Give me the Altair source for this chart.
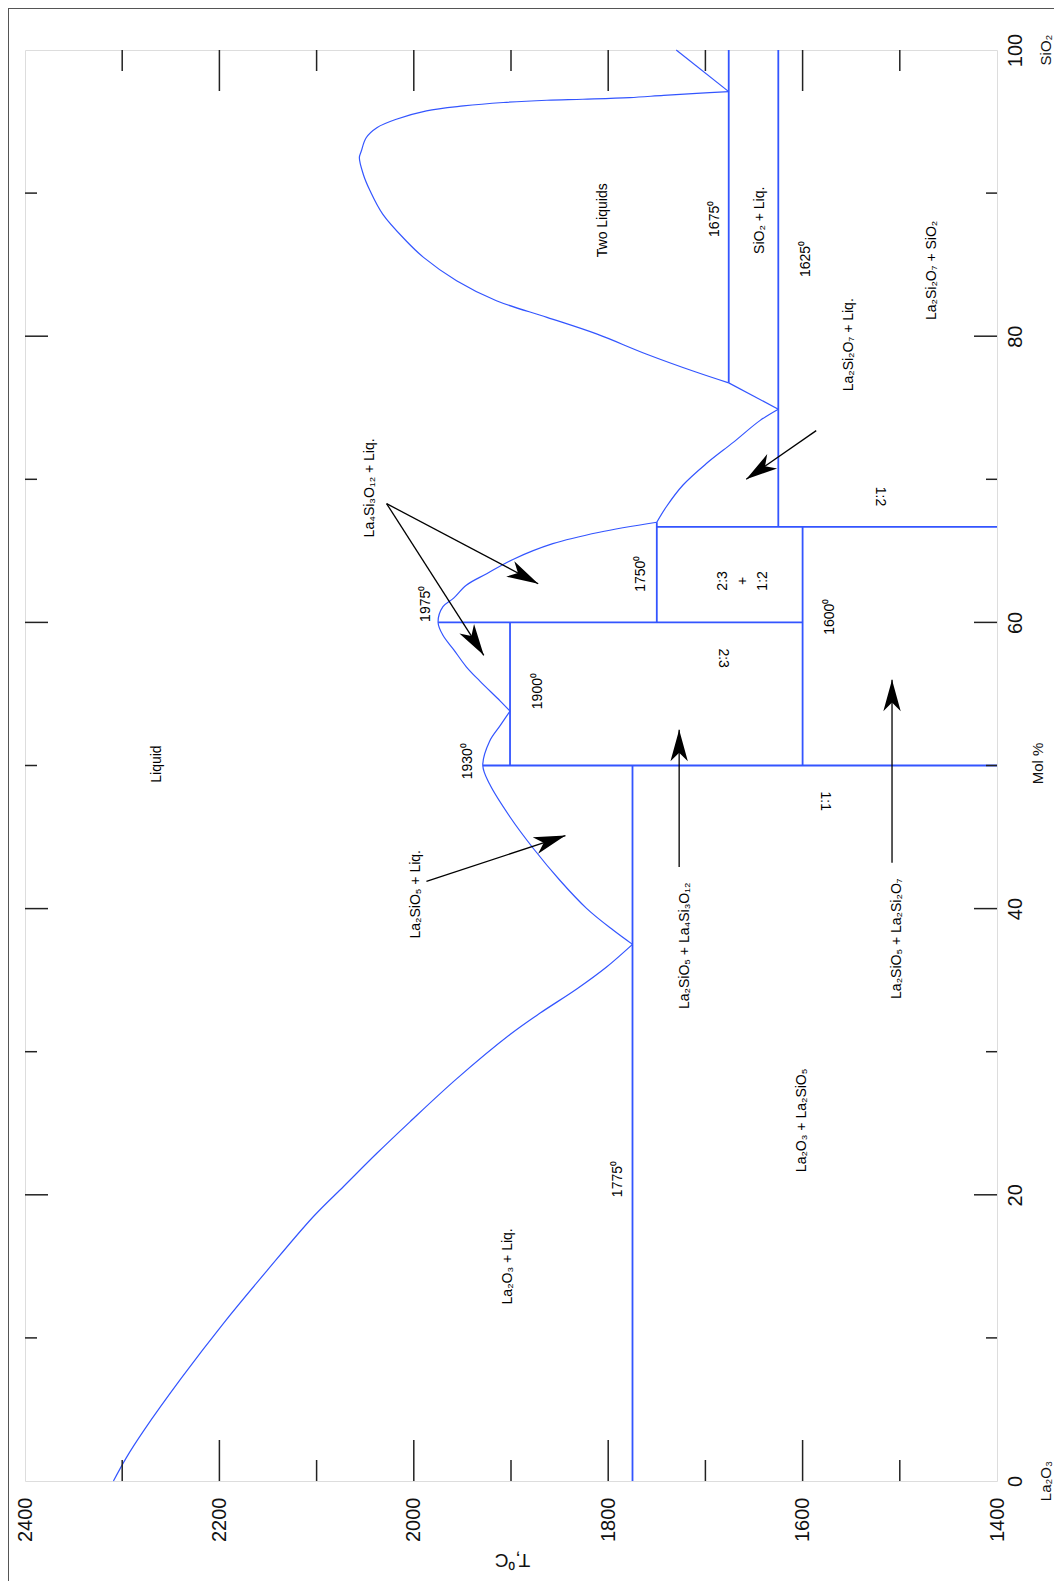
import math
import altair as alt
import pandas as pd

W, H = 972, 1431
NARROW = "'Liberation Sans Narrow', 'Arial Narrow', 'Liberation Sans', sans-serif"
SANS = "'Liberation Sans', Arial, sans-serif"
BLUE = "#3355ff"

# ---------------- curves (T in degC, M in mol % SiO2) ----------------
liq_la2o3_T = [2309, 2296, 2278, 2239, 2196, 2151, 2103, 2072, 2038, 2004, 1956, 1901, 1870, 1832, 1802, 1775]
liq_la2o3_M = [0.0, 1.6, 3.5, 7.2, 11.0, 14.7, 18.5, 20.6, 22.9, 25.1, 28.1, 31.2, 32.7, 34.4, 35.9, 37.5]

liq_1930_T = [1775, 1795, 1822, 1850, 1877, 1901, 1922, 1929, 1922, 1911, 1901]
liq_1930_M = [37.5, 38.5, 40.0, 42.0, 44.2, 46.4, 48.7, 50.0, 51.7, 52.8, 53.8]

liq_1975_T = [1901, 1911, 1932, 1946, 1959, 1970, 1975, 1970, 1959, 1946, 1925, 1898, 1857, 1809, 1750]
liq_1975_M = [53.8, 54.5, 55.9, 56.9, 58.1, 59.1, 60.0, 61.1, 61.7, 62.6, 63.4, 64.4, 65.5, 66.3, 67.0]

liq_1750_T = [1750, 1740, 1723, 1699, 1671, 1644, 1625]
liq_1750_M = [67.0, 68.1, 69.6, 71.1, 72.6, 74.1, 74.9]

liq_eut_T = [1625, 1676]
liq_eut_M = [74.9, 76.74]

dome_T = [1676, 1709, 1761, 1812, 1863, 1915, 1956, 1990, 2008, 2032, 2045, 2052, 2056, 2054, 2049,
          2038, 2018, 1987, 1949, 1908, 1863, 1826, 1778, 1743, 1709, 1676]
dome_M = [76.74, 77.48, 78.76, 80.16, 81.32, 82.48, 83.88, 85.51, 86.67, 88.53, 90.16, 91.32, 92.48,
          92.94, 93.87, 94.57, 95.16, 95.75, 96.09, 96.33, 96.49, 96.56, 96.67, 96.83, 96.97, 97.09]

liq_sio2_T = [1676, 1730]
liq_sio2_M = [97.09, 100.0]

# ---------------- straight phase boundaries ----------------
bound_T0 = [1775, 1929, 1901, 1975, 1750, 1750, 1600, 1625, 1676]
bound_T1 = [1775, 1400, 1901, 1600, 1750, 1400, 1600, 1625, 1676]
bound_M0 = [0.0, 50.0, 50.0, 60.0, 60.0, 66.67, 50.0, 66.67, 76.74]
bound_M1 = [50.0, 50.0, 60.0, 60.0, 67.0, 66.67, 66.67, 100.0, 100.0]

# ---------------- arrows ----------------
arrow_T0 = [1586, 2028, 2028, 1987, 1727, 1508]
arrow_M0 = [73.4, 68.3, 68.3, 41.9, 42.9, 43.2]
arrow_T1 = [1658, 1872, 1928, 1844, 1727, 1508]
arrow_M1 = [70.0, 62.7, 57.7, 45.1, 52.5, 56.0]

# ---------------- labels ----------------
lab_text = ["Liquid", "1930⁰", "La₂O₃ + Liq.", "1775⁰", "La₂O₃ + La₂SiO₅", "La₂SiO₅ + Liq.",
            "La₂SiO₅ + La₄Si₃O₁₂", "La₂SiO₅ + La₂Si₂O₇", "1900⁰", "1975⁰", "1600⁰", "1750⁰",
            "2:3\n+\n1:2", "La₄Si₃O₁₂ + Liq.", "La₂Si₂O₇ + Liq.", "Two Liquids", "1675⁰",
            "SiO₂ + Liq.", "1625⁰", "La₂Si₂O₇ + SiO₂"]
lab_T = [2264, 1944, 1903, 1790, 1601, 1998, 1721, 1503, 1872, 1987, 1572, 1766,
         1682, 2045, 1552, 1805, 1690, 1644, 1597, 1467]
lab_M = [50.1, 50.3, 15.0, 21.1, 25.2, 41.0, 37.4, 37.9, 55.2, 61.3, 60.4, 63.4,
         62.9, 69.4, 79.4, 88.1, 88.2, 88.1, 85.4, 84.6]

flip_text = ["1:1", "2:3", "1:2"]
flip_T = [1577, 1682, 1520]
flip_M = [47.5, 57.5, 68.8]

end_text = ["La₂O₃", "SiO₂"]
end_T = [1350, 1350]
end_M = [0.0, 100.0]

# ---------------- axis ticks ----------------
t_major = [2200, 2000, 1800, 1600]
t_minor = [2300, 2100, 1900, 1700, 1500]
m_major = [20, 40, 60, 80]
m_minor = [10, 30, 50, 70, 90]

# ---------------- build tables ----------------
segs = [("a", liq_la2o3_T, liq_la2o3_M), ("b", liq_1930_T, liq_1930_M), ("c", liq_1975_T, liq_1975_M),
        ("c2", liq_1750_T, liq_1750_M), ("e", dome_T, dome_M)]
rows = []
for name, ts, ms in segs:
    for i, (t, m) in enumerate(zip(ts, ms)):
        rows.append({"seg": name, "i": i, "T": t, "M": m})
curves = pd.DataFrame(rows)

straight_rows = []
for name, ts, ms in [("d", liq_eut_T, liq_eut_M), ("f", liq_sio2_T, liq_sio2_M)]:
    for i, (t, m) in enumerate(zip(ts, ms)):
        straight_rows.append({"seg": name, "i": i, "T": t, "M": m})
straight = pd.DataFrame(straight_rows)

bounds = pd.DataFrame({"T": bound_T0, "T2": bound_T1, "M": bound_M0, "M2": bound_M1})

px_T = W / 1000.0
px_M = H / 100.0
angles = []
for t0, m0, t1, m1 in zip(arrow_T0, arrow_M0, arrow_T1, arrow_M1):
    dx = -(t1 - t0) * px_T
    dy = -(m1 - m0) * px_M
    angles.append(math.degrees(math.atan2(dx, -dy)) % 360)
arrows = pd.DataFrame({"T": arrow_T0, "M": arrow_M0, "T2": arrow_T1, "M2": arrow_M1})
heads = pd.DataFrame({"T": arrow_T1, "M": arrow_M1, "ang": angles})

labels = pd.DataFrame({"text": lab_text, "T": lab_T, "M": lab_M})
flips = pd.DataFrame({"text": flip_text, "T": flip_T, "M": flip_M})
ends = pd.DataFrame({"text": end_text, "T": end_T, "M": end_M})

# ---------------- encodings ----------------
X = alt.X("T:Q",
          scale=alt.Scale(domain=[1400, 2400], reverse=True, nice=False, zero=False),
          axis=alt.Axis(values=[2400, 2200, 2000, 1800, 1600, 1400], format="d",
                        labelAngle=270, labelAlign="right", labelBaseline="middle",
                        labelPadding=16, labelFont=NARROW, labelFontSize=20, labelColor="#111",
                        labelFlush=False, labelOverlap=False,
                        ticks=False, domain=False, grid=False,
                        title="T,⁰C", titleAngle=180, titleFont=NARROW, titleFontSize=19,
                        titleFontWeight="normal", titleX=487, titleY=78,
                        titleAlign="center", titleBaseline="middle", titleColor="#111"))
Y = alt.Y("M:Q",
          scale=alt.Scale(domain=[0, 100], nice=False, zero=False),
          axis=alt.Axis(orient="right", values=[0, 20, 40, 60, 80, 100], format="d",
                        labelAngle=270, labelAlign="center", labelBaseline="top",
                        labelPadding=8, labelFont=NARROW, labelFontSize=20, labelColor="#111",
                        labelFlush=False, labelOverlap=False,
                        ticks=False, domain=False, grid=False,
                        title="Mol %", titleAngle=270, titleFont=SANS, titleFontSize=15,
                        titleFontWeight="normal", titleX=40, titleY=713,
                        titleAlign="center", titleBaseline="middle", titleColor="#111"))

curve_layer = alt.Chart(curves).mark_line(color=BLUE, strokeWidth=1.2, interpolate="catmull-rom").encode(
    x=X, y=Y, detail="seg:N", order="i:Q")

straight_layer = alt.Chart(straight).mark_line(color=BLUE, strokeWidth=1.2).encode(
    x=X, y=Y, detail="seg:N", order="i:Q")

bound_layer = alt.Chart(bounds).mark_rule(color=BLUE, strokeWidth=1.8).encode(
    x=X, x2="T2:Q", y=Y, y2="M2:Q")

arrow_layer = alt.Chart(arrows).mark_rule(color="black", strokeWidth=1.3).encode(
    x=X, x2="T2:Q", y=Y, y2="M2:Q")

HEAD = "M0,0 L0.55,2 L0,1.45 L-0.55,2 Z"
head_layer = alt.Chart(heads).mark_point(shape=HEAD, filled=True, color="black", opacity=1,
                                         size=1000, strokeWidth=0).encode(
    x=X, y=Y, angle=alt.Angle("ang:Q", scale=None))

label_layer = alt.Chart(labels).mark_text(angle=270, font=SANS, fontSize=14, color="black",
                                          align="center", baseline="middle",
                                          lineBreak="\n", lineHeight=20).encode(
    x=X, y=Y, text="text:N")

flip_layer = alt.Chart(flips).mark_text(angle=90, font=SANS, fontSize=14, color="black",
                                        align="center", baseline="middle").encode(
    x=X, y=Y, text="text:N")

end_layer = alt.Chart(ends).mark_text(angle=270, font=SANS, fontSize=15, color="#111",
                                      align="center", baseline="middle").encode(
    x=X, y=Y, text="text:N")

# tick marks drawn inward from the frame
tmaj = pd.DataFrame({"T": t_major})
tmin = pd.DataFrame({"T": t_minor})
mmaj = pd.DataFrame({"M": m_major})
mmin = pd.DataFrame({"M": m_minor})
TK = dict(color="#222", strokeWidth=1.5)
ticks = [
    alt.Chart(tmaj).mark_rule(**TK).encode(x=X, y=alt.value(H), y2=alt.value(H - 41)),
    alt.Chart(tmin).mark_rule(**TK).encode(x=X, y=alt.value(H), y2=alt.value(H - 21)),
    alt.Chart(tmaj).mark_rule(**TK).encode(x=X, y=alt.value(0), y2=alt.value(41)),
    alt.Chart(tmin).mark_rule(**TK).encode(x=X, y=alt.value(0), y2=alt.value(21)),
    alt.Chart(mmaj).mark_rule(**TK).encode(y=Y, x=alt.value(W), x2=alt.value(W - 23)),
    alt.Chart(mmin).mark_rule(**TK).encode(y=Y, x=alt.value(W), x2=alt.value(W - 11)),
    alt.Chart(mmaj).mark_rule(**TK).encode(y=Y, x=alt.value(0), x2=alt.value(23)),
    alt.Chart(mmin).mark_rule(**TK).encode(y=Y, x=alt.value(0), x2=alt.value(12)),
]

# thin outer border lines (top and left of the figure)
border = [
    alt.Chart(tmaj).mark_rule(color="#555", strokeWidth=1).encode(
        x=alt.value(-16.5), y=alt.value(-41.5), y2=alt.value(H + 120)),
    alt.Chart(tmaj).mark_rule(color="#555", strokeWidth=1).encode(
        x=alt.value(-16.5), x2=alt.value(W + 70), y=alt.value(-41.5)),
]

chart = alt.layer(
    curve_layer, straight_layer, bound_layer, *ticks, arrow_layer, head_layer,
    label_layer, flip_layer, end_layer, *border
).properties(
    width=W, height=H,
    autosize=alt.AutoSizeParams(type="none"),
    padding={"left": 17, "top": 42, "right": 57, "bottom": 100},
).configure_view(
    stroke="#222", strokeWidth=1.6
).configure(background="white")

chart.save("out.html", embed_options={"renderer": "svg", "actions": False})
